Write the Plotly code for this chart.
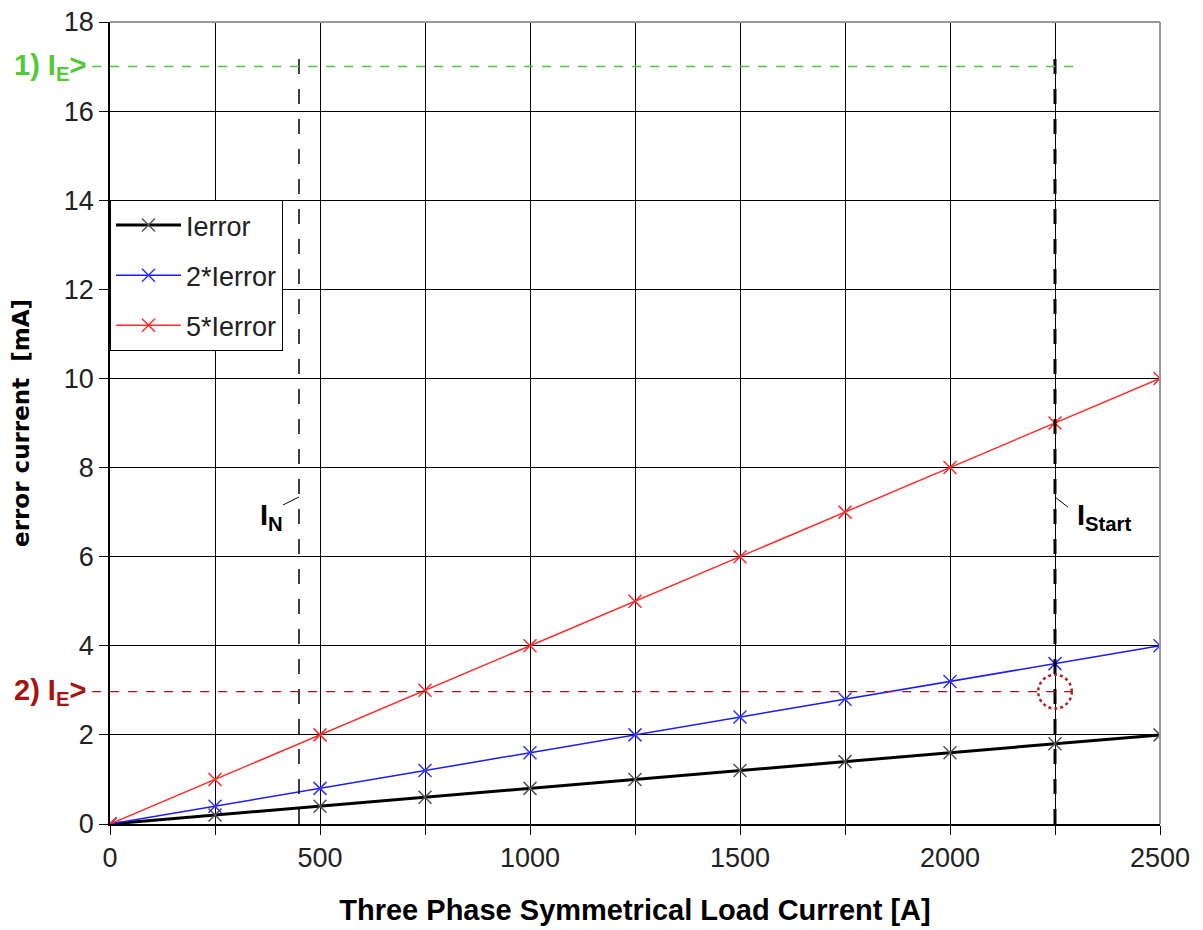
import plotly.graph_objects as go

load_current = [0, 250, 500, 750, 1000, 1250, 1500, 1750, 2000, 2250, 2500]
ierror = [0, 0.2, 0.4, 0.6, 0.8, 1.0, 1.2, 1.4, 1.6, 1.8, 2.0]
ierror2 = [0, 0.4, 0.8, 1.2, 1.6, 2.0, 2.4, 2.8, 3.2, 3.6, 4.0]
ierror5 = [0, 1, 2, 3, 4, 5, 6, 7, 8, 9, 10]

i_n = 450
i_start = 2250
ie1 = 17
ie2 = 2.97
top_mark = 17.5

font_main = "Liberation Sans, Arial, sans-serif"
font_narrow = "Liberation Sans Narrow, Arial Narrow, Liberation Sans, sans-serif"

fig = go.Figure()

def add_series(y, name, color, width, mcolor, grp):
    fig.add_trace(go.Scatter(
        x=load_current, y=y, name=name, mode="lines+markers", legendgroup=grp,
        line=dict(color=color, width=width),
        marker=dict(symbol="x-thin", size=13, line=dict(color=mcolor, width=1.5)),
    ))

add_series(ierror, "Ierror", "black", 3, "#555555", "a")
add_series(ierror2, "2*Ierror", "#1a1aff", 1.5, "#3333ff", "b")
add_series(ierror5, "5*Ierror", "#ff2a2a", 1.5, "#ff2a2a", "c")

shapes = []
shapes.append(dict(type="line", xref="x", yref="y", x0=i_n, x1=i_n, y0=0, y1=top_mark,
                   line=dict(color="black", width=1.5, dash="longdash")))
shapes.append(dict(type="line", xref="x", yref="y", x0=i_start, x1=i_start, y0=0, y1=top_mark,
                   line=dict(color="black", width=3, dash="longdash")))
shapes.append(dict(type="line", xref="paper", yref="y", x0=-0.017, x1=0.921, y0=ie1, y1=ie1,
                   line=dict(color="#44cc33", width=1.5, dash="dash")))
shapes.append(dict(type="line", xref="paper", yref="y", x0=-0.017, x1=0.916, y0=ie2, y1=ie2,
                   line=dict(color="#aa1111", width=1.3, dash="dash")))
shapes.append(dict(type="circle", xref="x", yref="y", x0=i_start - 40, x1=i_start + 40,
                   y0=ie2 - 0.38, y1=ie2 + 0.38,
                   line=dict(color="#b22222", width=2.5, dash="dot")))
shapes.append(dict(type="line", xref="x", yref="y", x0=412, x1=i_n, y0=7.16, y1=7.34,
                   line=dict(color="black", width=1)))
shapes.append(dict(type="line", xref="x", yref="y", x0=i_start, x1=2281, y0=7.34, y1=7.11,
                   line=dict(color="black", width=1)))
shapes.append(dict(type="line", xref="paper", yref="paper", x0=0, x1=1, y0=1, y1=1,
                   line=dict(color="#999999", width=2)))
shapes.append(dict(type="line", xref="paper", yref="paper", x0=1, x1=1, y0=0, y1=1,
                   line=dict(color="#999999", width=2)))

annotations = [
    dict(xref="paper", yref="y", x=-0.021, y=ie1, xanchor="right", yanchor="middle",
         text="<b>1) I<sub>E</sub>></b>", showarrow=False,
         font=dict(family=font_main, size=29, color="#55c83a")),
    dict(xref="paper", yref="y", x=-0.021, y=ie2, xanchor="right", yanchor="middle",
         text="<b>2) I<sub>E</sub>></b>", showarrow=False,
         font=dict(family=font_main, size=29, color="#aa1111")),
    dict(xref="x", yref="y", x=416, y=6.9, xanchor="right", yanchor="middle",
         text="<b>I<sub>N</sub></b>", showarrow=False,
         font=dict(family=font_narrow, size=29, color="black")),
    dict(xref="x", yref="y", x=2298, y=6.9, xanchor="left", yanchor="middle",
         text="<b>I<sub>Start</sub></b>", showarrow=False,
         font=dict(family=font_narrow, size=29, color="black")),
]

xt = list(range(0, 2501, 250))
fig.update_layout(
    width=1195, height=922,
    margin=dict(l=102, r=43, t=14, b=106),
    plot_bgcolor="white", paper_bgcolor="white",
    shapes=shapes, annotations=annotations,
    font=dict(family=font_main, size=27, color="#222222"),
    legend=dict(x=0, y=0.778, xanchor="left", yanchor="top",
                bordercolor="black", borderwidth=1, bgcolor="white",
                font=dict(family=font_main, size=27, color="#222222"),
                tracegroupgap=12, itemwidth=65),
    showlegend=True,
)
fig.update_xaxes(
    range=[0, 2500], tickmode="array", tickvals=xt,
    ticktext=[str(v) if v % 500 == 0 else "" for v in xt],
    showgrid=True, gridcolor="black", gridwidth=1,
    ticks="outside", ticklen=9, tickcolor="black",
    showline=True, linecolor="black", linewidth=1.5,
    zeroline=False, ticklabeloverflow="allow", automargin=False,
    title=dict(text="<b>Three Phase Symmetrical Load Current [A]</b>",
               font=dict(family=font_narrow, size=29, color="black"), standoff=28),
)
fig.update_yaxes(
    range=[0, 18], dtick=2,
    showgrid=True, gridcolor="black", gridwidth=1,
    ticks="outside", ticklen=9, tickcolor="black",
    showline=True, linecolor="black", linewidth=1.5,
    zeroline=False, ticklabeloverflow="allow", automargin=False,
    title=dict(text="<b>error current  [mA]</b>",
               font=dict(family="DejaVu Sans, sans-serif", size=23, color="black"), standoff=28),
)

fig.write_html("out.html")
